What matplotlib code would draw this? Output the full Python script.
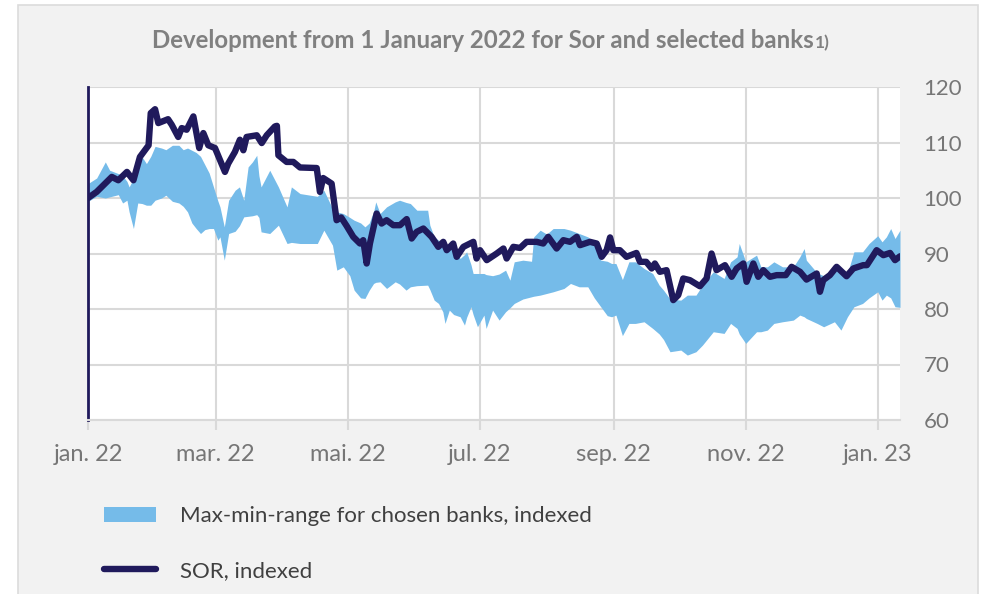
import matplotlib
matplotlib.use("Agg")
import matplotlib.pyplot as plt
from matplotlib.patches import Rectangle, Patch
from matplotlib.lines import Line2D
import pandas as pd

plt.rcParams["font.family"] = ["Lato", "DejaVu Sans"]

START = pd.Timestamp("2022-01-01")

# SOR, indexed (1 Jan 2022 = 100); x given as days since START
sor_day = [0, 4, 11, 14, 18, 21, 24, 28, 29, 31,
           32.5, 37, 38.7, 41.7, 43.3, 45.6, 48.7, 51.4, 53.3, 55.6,
           58.7, 63.3, 64.8, 67.9, 70.2, 71.8, 73.3, 78, 80.3, 82.6,
           86.4, 87.3, 88, 91.8, 94.9, 98, 105.7, 107.2, 108.7, 112.6,
           114.9, 117, 119.5, 122.6, 125.7, 127.2, 128.8, 130.3, 133.4, 135.7,
           138, 141.1, 144.2, 147.3, 149.6, 151.9, 155, 158.8, 161.9, 164.2,
           165.8, 168.8, 170.4, 173.5, 178.1, 179.6, 181.2, 184.3, 188.9, 192,
           193.5, 196.6, 199.7, 202.7, 207.4, 210.4, 212.7, 216.6, 219.7, 222.8,
           225.9, 227.4, 232, 235.1, 237.4, 239.7, 241.3, 242.8, 245.8, 248.9,
           253.5, 255.1, 258, 260.5, 262, 264.3, 267.4, 270.5, 272.8, 275.1,
           278.2, 282.8, 285.9, 288.2, 290.5, 294.4, 297.5, 299.8, 302.9, 304.4,
           307.5, 309.8, 312.1, 315.2, 318.3, 322.5, 325.2, 329.1, 332.1, 336.8,
           338.3, 339.8, 342.9, 346, 350.6, 353.7, 358.3, 360, 364.5, 367.6,
           370.7, 373, 375.3]
sor_value = [100.0, 101.1, 103.8, 103.2, 104.7, 103.2, 107.4, 109.5, 115.3, 116.0,
             113.5, 114.2, 113.2, 111.0, 112.6, 112.3, 114.7, 109.0, 111.7, 109.5,
             109.0, 104.7, 106.2, 108.3, 110.5, 108.6, 111.0, 111.3, 109.9, 111.3,
             112.9, 113.0, 107.7, 106.5, 106.5, 105.5, 105.4, 101.1, 103.6, 102.6,
             96.0, 96.5, 95.0, 93.0, 91.8, 92.4, 88.2, 91.8, 97.2, 95.4,
             96.0, 95.1, 95.1, 96.2, 92.7, 93.9, 94.5, 93.0, 91.2, 92.1,
             90.6, 91.8, 89.4, 91.2, 92.1, 89.1, 90.6, 88.8, 90.0, 90.9,
             89.1, 91.2, 91.0, 92.1, 92.1, 91.8, 93.0, 90.9, 92.4, 92.1,
             93.0, 91.5, 92.1, 91.8, 89.4, 90.6, 92.9, 90.6, 90.6, 89.4,
             90.1, 88.5, 88.5, 87.3, 88.2, 86.7, 87.0, 81.6, 82.5, 85.5,
             85.2, 84.1, 85.5, 90.0, 87.0, 87.9, 85.8, 87.3, 88.2, 84.9,
             88.2, 85.8, 87.0, 85.8, 86.1, 86.1, 87.6, 86.7, 85.3, 86.4,
             83.1, 85.2, 86.1, 87.6, 85.9, 87.3, 87.9, 87.9, 90.6, 89.7,
             90.1, 88.8, 89.5]

# max/min range across the chosen banks, same day offsets for both edges
band_day = [0, 4, 8, 10, 14, 16, 18, 19, 21, 23,
            25, 27, 29, 31, 34, 36, 39, 42, 44, 46,
            48, 50, 52, 54, 56, 58, 60, 61, 63, 65,
            68, 70, 72, 74, 76, 78, 79, 80, 84, 88,
            92, 94, 98, 106, 109, 113, 115, 118, 121, 123,
            126, 128, 130, 131, 132, 133, 135, 138, 142, 144,
            147, 149, 152, 157, 158, 160, 162, 164, 165, 167,
            169, 172, 174, 175, 177, 178, 180, 183, 184, 187,
            190, 193, 195, 197, 201, 205, 206, 209, 212, 215,
            220, 223, 227, 231, 234, 237, 240, 242, 244, 247,
            250, 253, 257, 261, 264, 266, 269, 274, 277, 281,
            284, 289, 294, 297, 300, 301, 304, 309, 311, 314,
            317, 321, 326, 329, 331, 332, 337, 340, 345, 348,
            351, 354, 358, 361, 365, 367, 369, 371, 373, 375.3]
band_high = [102.6, 103.6, 106.5, 105.0, 104.4, 104.0, 103.0, 102.0, 103.5, 105.0,
             107.4, 106.2, 107.5, 109.3, 109.0, 108.7, 109.5, 109.5, 108.7, 109.0,
             108.6, 108.2, 107.5, 106.0, 104.5, 102.0, 99.5, 98.4, 94.8, 99.6,
             101.4, 102.0, 99.6, 105.6, 106.5, 107.7, 104.0, 102.0, 105.0, 102.0,
             98.4, 102.0, 100.8, 100.3, 101.4, 98.1, 97.5, 97.2, 96.5, 96.0,
             95.5, 94.8, 95.5, 96.6, 97.5, 99.3, 97.2, 98.4, 99.3, 99.6,
             99.2, 99.0, 97.8, 97.8, 95.1, 93.0, 92.4, 91.8, 91.5, 91.0,
             90.9, 89.1, 89.8, 90.3, 88.0, 86.4, 86.4, 86.4, 86.2, 86.0,
             86.3, 87.0, 85.2, 88.5, 88.8, 88.6, 93.0, 94.2, 93.5, 94.5,
             94.5, 94.2, 93.6, 93.0, 92.1, 88.8, 88.6, 88.2, 88.2, 85.3,
             88.5, 88.5, 87.3, 86.4, 84.3, 83.4, 81.8, 81.6, 82.5, 82.5,
             84.3, 86.7, 85.5, 88.5, 89.4, 91.8, 88.5, 89.7, 87.6, 87.6,
             88.5, 87.6, 87.6, 89.4, 90.9, 88.8, 86.5, 86.0, 87.0, 86.8,
             86.4, 90.3, 90.3, 91.8, 93.2, 92.1, 93.0, 94.5, 92.7, 94.2]
band_low = [99.4, 100.3, 100.0, 100.2, 100.6, 99.1, 99.6, 97.5, 94.5, 99.1,
            99.0, 98.7, 98.7, 99.6, 100.0, 100.5, 99.4, 99.1, 98.5, 97.5,
            95.5, 94.5, 93.6, 94.3, 94.5, 94.5, 92.4, 93.0, 88.8, 93.6,
            94.0, 95.0, 96.6, 96.7, 96.8, 97.0, 96.5, 93.9, 93.6, 95.1,
            91.8, 92.0, 91.8, 91.8, 94.2, 91.5, 87.0, 87.6, 86.0, 83.4,
            82.0, 81.9, 83.4, 84.0, 84.6, 84.8, 84.9, 83.7, 84.9, 84.5,
            83.4, 84.0, 84.2, 84.3, 83.5, 81.6, 81.0, 79.5, 77.4, 79.8,
            79.0, 78.6, 77.1, 78.5, 80.4, 79.0, 76.8, 78.9, 76.5, 79.8,
            78.0, 79.5, 80.2, 81.0, 81.8, 82.2, 82.3, 82.5, 82.8, 83.1,
            83.7, 84.6, 84.0, 84.0, 82.0, 80.4, 78.8, 78.6, 78.9, 75.2,
            77.4, 77.4, 77.7, 76.5, 75.5, 74.5, 72.3, 72.6, 71.7, 72.3,
            73.5, 75.9, 75.6, 77.4, 76.5, 75.5, 73.8, 75.9, 75.9, 76.2,
            77.4, 77.7, 78.0, 78.9, 78.6, 78.3, 77.4, 76.8, 77.7, 76.2,
            78.6, 80.4, 81.0, 82.0, 83.1, 81.6, 82.5, 82.0, 80.4, 80.3]

tick_dates = ["2022-01-01", "2022-03-01", "2022-05-01", "2022-07-01",
              "2022-09-01", "2022-11-01", "2023-01-01"]
tick_labels = ["jan. 22", "mar. 22", "mai. 22", "jul. 22",
               "sep. 22", "nov. 22", "jan. 23"]
y_ticks = [60, 70, 80, 90, 100, 110, 120]

TITLE = "Development from 1 January 2022 for Sor and selected banks"
NAVY = "#201a5c"
BAND = "#75bbe9"
GRID = "#d9d9d9"
LABEL = "#767676"

W, H = 983, 594


def main():
    sor_dates = START + pd.to_timedelta(sor_day, unit="D")
    band_dates = START + pd.to_timedelta(band_day, unit="D")

    fig = plt.figure(figsize=(W / 100, H / 100), dpi=100, facecolor="white")
    # grey card behind the whole chart
    fig.patches.append(Rectangle((18 / W, -0.01), 960 / W, 1 - 5 / H + 0.01,
                                 transform=fig.transFigure, facecolor="#f2f2f2",
                                 edgecolor="#dcdcdc", lw=1.2, zorder=-10))

    ax = fig.add_axes([88 / W, 1 - 420 / H, 812 / W, 333 / H])
    ax.set_facecolor("white")

    ax.fill_between(band_dates, band_low, band_high, color=BAND, lw=0, zorder=2)
    ax.plot(sor_dates, sor_value, color=NAVY, lw=4.6,
            solid_joinstyle="round", solid_capstyle="round", zorder=3)

    ax.set_ylim(60, 120)
    ax.set_yticks(y_ticks)
    ax.yaxis.tick_right()
    ax.tick_params(axis="y", length=0, pad=17, labelsize=16, labelcolor=LABEL)

    ax.set_xlim(START, START + pd.Timedelta(days=band_day[-1]))
    ax.set_xticks(pd.to_datetime(tick_dates))
    ax.set_xticklabels(tick_labels)
    ax.tick_params(axis="x", length=7, width=1.5, color=GRID, pad=10,
                   labelsize=17, labelcolor=LABEL)

    ax.grid(True, color=GRID, lw=1.5)
    ax.set_axisbelow(True)
    for side in ["top", "right"]:
        ax.spines[side].set_visible(False)
    ax.spines["bottom"].set_color(GRID)
    ax.spines["bottom"].set_linewidth(1.5)
    ax.spines["left"].set_color(NAVY)
    ax.spines["left"].set_linewidth(2)

    # title with a smaller footnote marker after it
    renderer = fig.canvas.get_renderer()
    ty = 1 - 48 / H
    main_t = fig.text(0, ty, TITLE, ha="left", va="baseline", fontsize=17.3,
                      fontweight="bold", color="#808080")
    note_t = fig.text(0, ty, "1)", ha="left", va="baseline", fontsize=12.5,
                      fontweight="bold", color="#808080")
    w1 = main_t.get_window_extent(renderer).width
    w2 = note_t.get_window_extent(renderer).width
    x0 = 490 - (w1 + w2) / 2
    main_t.set_x(x0 / W)
    note_t.set_x((x0 + w1 + 1) / W)

    handles = [Patch(facecolor=BAND, edgecolor="none",
                     label="Max-min-range for chosen banks, indexed"),
               Line2D([], [], color=NAVY, lw=4.6, solid_capstyle="round",
                      label="SOR, indexed")]
    fig.legend(handles=handles, loc="upper left",
               bbox_to_anchor=(104 / W, 1 - 506 / H), frameon=False,
               fontsize=16, labelcolor="#404040", handlelength=2.35,
               handleheight=0.65, handletextpad=1.08, labelspacing=1.57,
               borderpad=0, borderaxespad=0)

    fig.savefig("out.png", dpi=100, facecolor=fig.get_facecolor())


if __name__ == "__main__":
    main()
